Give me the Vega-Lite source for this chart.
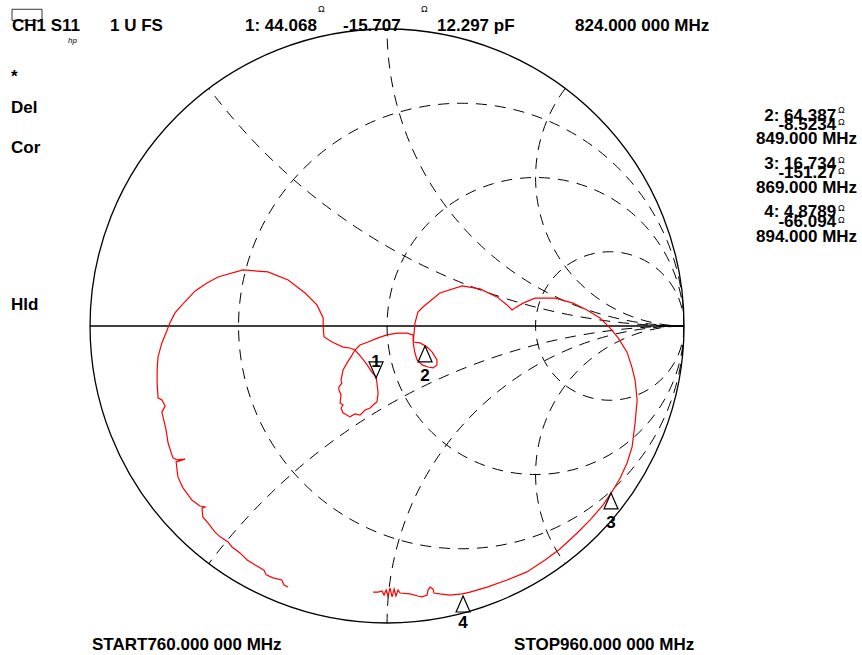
{
  "$schema": "https://vega.github.io/schema/vega-lite/v6.json",
  "width": 862,
  "height": 655,
  "autosize": {"type": "none"},
  "padding": 0,
  "background": "white",
  "config": {"view": {"stroke": null}, "text": {"font": "Liberation Sans"}},
  "datasets": {
    "grid": [
      {"name": "r=1/3", "u": 0.25, "v": 0, "r": 0.75},
      {"name": "r=1", "u": 0.5, "v": 0, "r": 0.5},
      {"name": "r=3", "u": 0.75, "v": 0, "r": 0.25},
      {"name": "x=0.5", "u": 1, "v": 2, "r": 2},
      {"name": "x=-0.5", "u": 1, "v": -2, "r": 2},
      {"name": "x=1", "u": 1, "v": 1, "r": 1},
      {"name": "x=-1", "u": 1, "v": -1, "r": 1},
      {"name": "x=2", "u": 1, "v": 0.5, "r": 0.5},
      {"name": "x=-2", "u": 1, "v": -0.5, "r": 0.5}
    ],
    "trace": [
      {"i":1,"u":-0.333,"v":-0.879},{"i":2,"u":-0.347,"v":-0.872},{"i":3,"u":-0.354,"v":-0.855},{"i":4,"u":-0.384,"v":-0.848},
      {"i":5,"u":-0.407,"v":-0.838},{"i":6,"u":-0.414,"v":-0.822},{"i":7,"u":-0.444,"v":-0.805},{"i":8,"u":-0.471,"v":-0.788},
      {"i":9,"u":-0.495,"v":-0.764},{"i":10,"u":-0.522,"v":-0.744},{"i":11,"u":-0.535,"v":-0.727},{"i":12,"u":-0.562,"v":-0.710},
      {"i":13,"u":-0.579,"v":-0.694},{"i":14,"u":-0.603,"v":-0.663},{"i":15,"u":-0.620,"v":-0.643},{"i":16,"u":-0.623,"v":-0.613},
      {"i":17,"u":-0.613,"v":-0.609},{"i":18,"u":-0.630,"v":-0.606},{"i":19,"u":-0.657,"v":-0.586},{"i":20,"u":-0.687,"v":-0.545},
      {"i":21,"u":-0.704,"v":-0.508},{"i":22,"u":-0.710,"v":-0.458},{"i":23,"u":-0.680,"v":-0.448},{"i":24,"u":-0.707,"v":-0.451},
      {"i":25,"u":-0.721,"v":-0.444},{"i":26,"u":-0.737,"v":-0.394},{"i":27,"u":-0.744,"v":-0.350},{"i":28,"u":-0.758,"v":-0.290},
      {"i":29,"u":-0.747,"v":-0.269},{"i":30,"u":-0.758,"v":-0.249},{"i":31,"u":-0.771,"v":-0.242},{"i":32,"u":-0.774,"v":-0.192},
      {"i":33,"u":-0.774,"v":-0.148},{"i":34,"u":-0.771,"v":-0.104},{"i":35,"u":-0.758,"v":-0.057},{"i":36,"u":-0.747,"v":-0.030},
      {"i":37,"u":-0.731,"v":0.010},{"i":38,"u":-0.714,"v":0.044},{"i":39,"u":-0.690,"v":0.071},{"i":40,"u":-0.646,"v":0.118},
      {"i":41,"u":-0.606,"v":0.145},{"i":42,"u":-0.569,"v":0.165},{"i":43,"u":-0.485,"v":0.189},{"i":44,"u":-0.401,"v":0.182},
      {"i":45,"u":-0.333,"v":0.155},{"i":46,"u":-0.276,"v":0.111},{"i":47,"u":-0.236,"v":0.071},{"i":48,"u":-0.215,"v":0.027},
      {"i":49,"u":-0.215,"v":-0.003},{"i":50,"u":-0.212,"v":-0.037},{"i":51,"u":-0.185,"v":-0.054},{"i":52,"u":-0.148,"v":-0.071},
      {"i":53,"u":-0.125,"v":-0.074},{"i":54,"u":-0.108,"v":-0.081},{"i":55,"u":-0.084,"v":-0.108},{"i":56,"u":-0.067,"v":-0.131},
      {"i":57,"u":-0.051,"v":-0.155},{"i":58,"u":-0.037,"v":-0.172},{"i":59,"u":-0.034,"v":-0.192},{"i":60,"u":-0.030,"v":-0.226},
      {"i":61,"u":-0.034,"v":-0.256},{"i":62,"u":-0.047,"v":-0.266},{"i":63,"u":-0.057,"v":-0.276},{"i":64,"u":-0.074,"v":-0.283},
      {"i":65,"u":-0.091,"v":-0.300},{"i":66,"u":-0.108,"v":-0.296},{"i":67,"u":-0.125,"v":-0.306},{"i":68,"u":-0.141,"v":-0.296},
      {"i":69,"u":-0.148,"v":-0.293},{"i":70,"u":-0.155,"v":-0.276},{"i":71,"u":-0.148,"v":-0.266},{"i":72,"u":-0.158,"v":-0.259},
      {"i":73,"u":-0.155,"v":-0.232},{"i":74,"u":-0.162,"v":-0.215},{"i":75,"u":-0.162,"v":-0.205},{"i":76,"u":-0.152,"v":-0.192},
      {"i":77,"u":-0.155,"v":-0.182},{"i":78,"u":-0.148,"v":-0.148},{"i":79,"u":-0.135,"v":-0.125},{"i":80,"u":-0.118,"v":-0.098},
      {"i":81,"u":-0.108,"v":-0.081},{"i":82,"u":-0.091,"v":-0.064},{"i":83,"u":-0.064,"v":-0.054},{"i":84,"u":-0.030,"v":-0.040},
      {"i":85,"u":0.000,"v":-0.030},{"i":86,"u":0.034,"v":-0.024},{"i":87,"u":0.067,"v":-0.024},{"i":88,"u":0.088,"v":-0.030},
      {"i":89,"u":0.088,"v":-0.054},{"i":90,"u":0.111,"v":-0.057},{"i":91,"u":0.135,"v":-0.071},{"i":92,"u":0.152,"v":-0.088},
      {"i":93,"u":0.168,"v":-0.114},{"i":94,"u":0.168,"v":-0.131},{"i":95,"u":0.155,"v":-0.141},{"i":96,"u":0.138,"v":-0.138},
      {"i":97,"u":0.118,"v":-0.131},{"i":98,"u":0.101,"v":-0.114},{"i":99,"u":0.094,"v":-0.091},{"i":100,"u":0.088,"v":-0.057},
      {"i":101,"u":0.091,"v":-0.024},{"i":102,"u":0.094,"v":0.010},{"i":103,"u":0.104,"v":0.047},{"i":104,"u":0.121,"v":0.064},
      {"i":105,"u":0.178,"v":0.111},{"i":106,"u":0.253,"v":0.135},{"i":107,"u":0.313,"v":0.125},{"i":108,"u":0.370,"v":0.098},
      {"i":109,"u":0.404,"v":0.071},{"i":110,"u":0.421,"v":0.054},{"i":111,"u":0.431,"v":0.061},{"i":112,"u":0.458,"v":0.077},
      {"i":113,"u":0.498,"v":0.094},{"i":114,"u":0.566,"v":0.094},{"i":115,"u":0.626,"v":0.077},{"i":116,"u":0.673,"v":0.054},
      {"i":117,"u":0.717,"v":0.027},{"i":118,"u":0.751,"v":-0.007},{"i":119,"u":0.778,"v":-0.040},{"i":120,"u":0.808,"v":-0.088},
      {"i":121,"u":0.825,"v":-0.141},{"i":122,"u":0.835,"v":-0.182},{"i":123,"u":0.842,"v":-0.249},{"i":124,"u":0.835,"v":-0.327},
      {"i":125,"u":0.825,"v":-0.407},{"i":126,"u":0.808,"v":-0.461},{"i":127,"u":0.785,"v":-0.512},{"i":128,"u":0.761,"v":-0.552},
      {"i":129,"u":0.727,"v":-0.603},{"i":130,"u":0.684,"v":-0.653},{"i":131,"u":0.640,"v":-0.697},{"i":132,"u":0.582,"v":-0.751},
      {"i":133,"u":0.532,"v":-0.788},{"i":134,"u":0.471,"v":-0.828},{"i":135,"u":0.404,"v":-0.855},{"i":136,"u":0.337,"v":-0.879},
      {"i":137,"u":0.279,"v":-0.896},{"i":138,"u":0.253,"v":-0.902},{"i":139,"u":0.212,"v":-0.906},{"i":140,"u":0.178,"v":-0.902},
      {"i":141,"u":0.158,"v":-0.899},{"i":142,"u":0.155,"v":-0.886},{"i":143,"u":0.145,"v":-0.879},{"i":144,"u":0.138,"v":-0.889},
      {"i":145,"u":0.135,"v":-0.906},{"i":146,"u":0.118,"v":-0.912},{"i":147,"u":0.104,"v":-0.909},{"i":148,"u":0.077,"v":-0.902},
      {"i":149,"u":0.044,"v":-0.899},{"i":150,"u":0.037,"v":-0.889},{"i":151,"u":0.030,"v":-0.909},{"i":152,"u":0.024,"v":-0.886},
      {"i":153,"u":0.017,"v":-0.912},{"i":154,"u":0.010,"v":-0.882},{"i":155,"u":0.003,"v":-0.909},{"i":156,"u":-0.003,"v":-0.889},
      {"i":157,"u":-0.010,"v":-0.906},{"i":158,"u":-0.017,"v":-0.892},{"i":159,"u":-0.030,"v":-0.896},{"i":160,"u":-0.047,"v":-0.896}
    ],
    "markers": [
      {"m": "1", "dir": "down", "u": -0.037, "v": -0.148},
      {"m": "2", "dir": "up", "u": 0.128, "v": -0.094},
      {"m": "3", "dir": "up", "u": 0.754, "v": -0.589},
      {"m": "4", "dir": "up", "u": 0.256, "v": -0.936}
    ],
    "markerLabels": [
      {"t": "1", "u": -0.037, "v": -0.121},
      {"t": "2", "u": 0.128, "v": -0.168},
      {"t": "3", "u": 0.754, "v": -0.663},
      {"t": "4", "u": 0.256, "v": -1.0}
    ],
    "leftTexts": [
      {"t": "CH1 S11", "u": -1.2626, "v": 0.9933},
      {"t": "1 U FS", "u": -0.9327, "v": 0.9933},
      {"t": "1: 44.068", "u": -0.4781, "v": 0.9933},
      {"t": "-15.707", "u": -0.1481, "v": 0.9933},
      {"t": "12.297 pF", "u": 0.1684, "v": 0.9933},
      {"t": "824.000 000 MHz", "u": 0.633, "v": 0.9933},
      {"t": "*", "u": -1.266, "v": 0.8215},
      {"t": "Del", "u": -1.266, "v": 0.7172},
      {"t": "Cor", "u": -1.266, "v": 0.5825},
      {"t": "Hld", "u": -1.266, "v": 0.0539},
      {"t": "START760.000 000 MHz", "u": -0.9933, "v": -1.0909},
      {"t": "STOP960.000 000 MHz", "u": 0.4276, "v": -1.0909}
    ],
    "rightTexts": [
      {"t": "2: 64.387", "u": 1.5118, "v": 0.6902},
      {"t": "-8.5234", "u": 1.5118, "v": 0.6599},
      {"t": "849.000 MHz", "u": 1.5825, "v": 0.6128},
      {"t": "3: 16.734", "u": 1.5118, "v": 0.5286},
      {"t": "-151.27", "u": 1.5118, "v": 0.4983},
      {"t": "869.000 MHz", "u": 1.5825, "v": 0.4478},
      {"t": "4: 4.8789", "u": 1.5118, "v": 0.367},
      {"t": "-66.094", "u": 1.5118, "v": 0.3333},
      {"t": "894.000 MHz", "u": 1.5825, "v": 0.2828}
    ],
    "ohms": [
      {"t": "Ω", "u": -0.2323, "v": 1.0572},
      {"t": "Ω", "u": 0.1145, "v": 1.0572},
      {"t": "Ω", "u": 1.5185, "v": 0.7172},
      {"t": "Ω", "u": 1.5185, "v": 0.6768},
      {"t": "Ω", "u": 1.5185, "v": 0.5488},
      {"t": "Ω", "u": 1.5185, "v": 0.5118},
      {"t": "Ω", "u": 1.5185, "v": 0.3872},
      {"t": "Ω", "u": 1.5185, "v": 0.3468}
    ]
  },
  "encoding": {
    "x": {"field": "u", "type": "quantitative", "scale": {"domain": [-1.303, 1.599], "nice": false, "zero": false}, "axis": null},
    "y": {"field": "v", "type": "quantitative", "scale": {"domain": [-1.1077, 1.0976], "nice": false, "zero": false}, "axis": null}
  },
  "layer": [
    {
      "data": {"name": "grid"},
      "mark": {"type": "point", "shape": "circle", "filled": false, "stroke": "black", "strokeWidth": 1, "strokeDash": [11, 8], "opacity": 1},
      "encoding": {
        "size": {"field": "r", "type": "quantitative", "scale": {"type": "pow", "exponent": 2, "domain": [0, 1], "range": [0, 352836], "zero": true}, "legend": null}
      }
    },
    {
      "data": {"values": [{"u": 0, "v": 0, "r": 1.4882}]},
      "mark": {"type": "point", "shape": "circle", "filled": false, "stroke": "white", "strokeWidth": 290, "opacity": 1},
      "encoding": {
        "size": {"field": "r", "type": "quantitative", "scale": {"type": "pow", "exponent": 2, "domain": [0, 1], "range": [0, 352836], "zero": true}, "legend": null}
      }
    },
    {
      "data": {"values": [{"u": 0, "v": 0, "r": 1}]},
      "mark": {"type": "point", "shape": "circle", "filled": false, "stroke": "black", "strokeWidth": 1.3, "opacity": 1},
      "encoding": {
        "size": {"field": "r", "type": "quantitative", "scale": {"type": "pow", "exponent": 2, "domain": [0, 1], "range": [0, 352836], "zero": true}, "legend": null}
      }
    },
    {
      "data": {"values": [{"u": -1, "u2": 1, "v": 0}]},
      "mark": {"type": "rule", "stroke": "black", "strokeWidth": 1.3},
      "encoding": {"x2": {"field": "u2"}}
    },
    {
      "data": {"name": "trace"},
      "mark": {"type": "line", "stroke": "#ff0000", "strokeWidth": 1.2},
      "encoding": {"order": {"field": "i", "type": "quantitative"}}
    },
    {
      "data": {"name": "markers"},
      "mark": {"type": "point", "filled": false, "stroke": "black", "strokeWidth": 1.2, "size": 256, "opacity": 1},
      "encoding": {
        "shape": {"field": "dir", "type": "nominal", "scale": {"domain": ["up", "down"], "range": ["M0,-1L-0.875,1L0.875,1Z", "M0,1L-0.875,-1L0.875,-1Z"]}, "legend": null}
      }
    },
    {
      "data": {"name": "markerLabels"},
      "mark": {"type": "text", "fontSize": 17, "fontWeight": "bold", "align": "center", "baseline": "middle", "color": "black"},
      "encoding": {"text": {"field": "t"}}
    },
    {
      "data": {"name": "leftTexts"},
      "mark": {"type": "text", "fontSize": 17, "fontWeight": "bold", "align": "left", "baseline": "alphabetic", "color": "black"},
      "encoding": {"text": {"field": "t"}}
    },
    {
      "data": {"name": "rightTexts"},
      "mark": {"type": "text", "fontSize": 17, "fontWeight": "bold", "align": "right", "baseline": "alphabetic", "color": "black"},
      "encoding": {"text": {"field": "t"}}
    },
    {
      "data": {"name": "ohms"},
      "mark": {"type": "text", "fontSize": 9, "align": "left", "baseline": "alphabetic", "color": "black"},
      "encoding": {"text": {"field": "t"}}
    },
    {
      "data": {"values": [{"t": "hp", "u": -1.0741, "v": 0.9529}]},
      "mark": {"type": "text", "fontSize": 8, "fontStyle": "italic", "align": "left", "baseline": "alphabetic", "color": "black"},
      "encoding": {"text": {"field": "t"}}
    },
    {
      "data": {"values": [{"u": -1.2626, "u2": -1.1616, "v": 1.0663, "v2": 1.029}]},
      "mark": {"type": "rect", "filled": false, "stroke": "black", "strokeWidth": 0.8},
      "encoding": {"x2": {"field": "u2"}, "y2": {"field": "v2"}}
    }
  ]
}
